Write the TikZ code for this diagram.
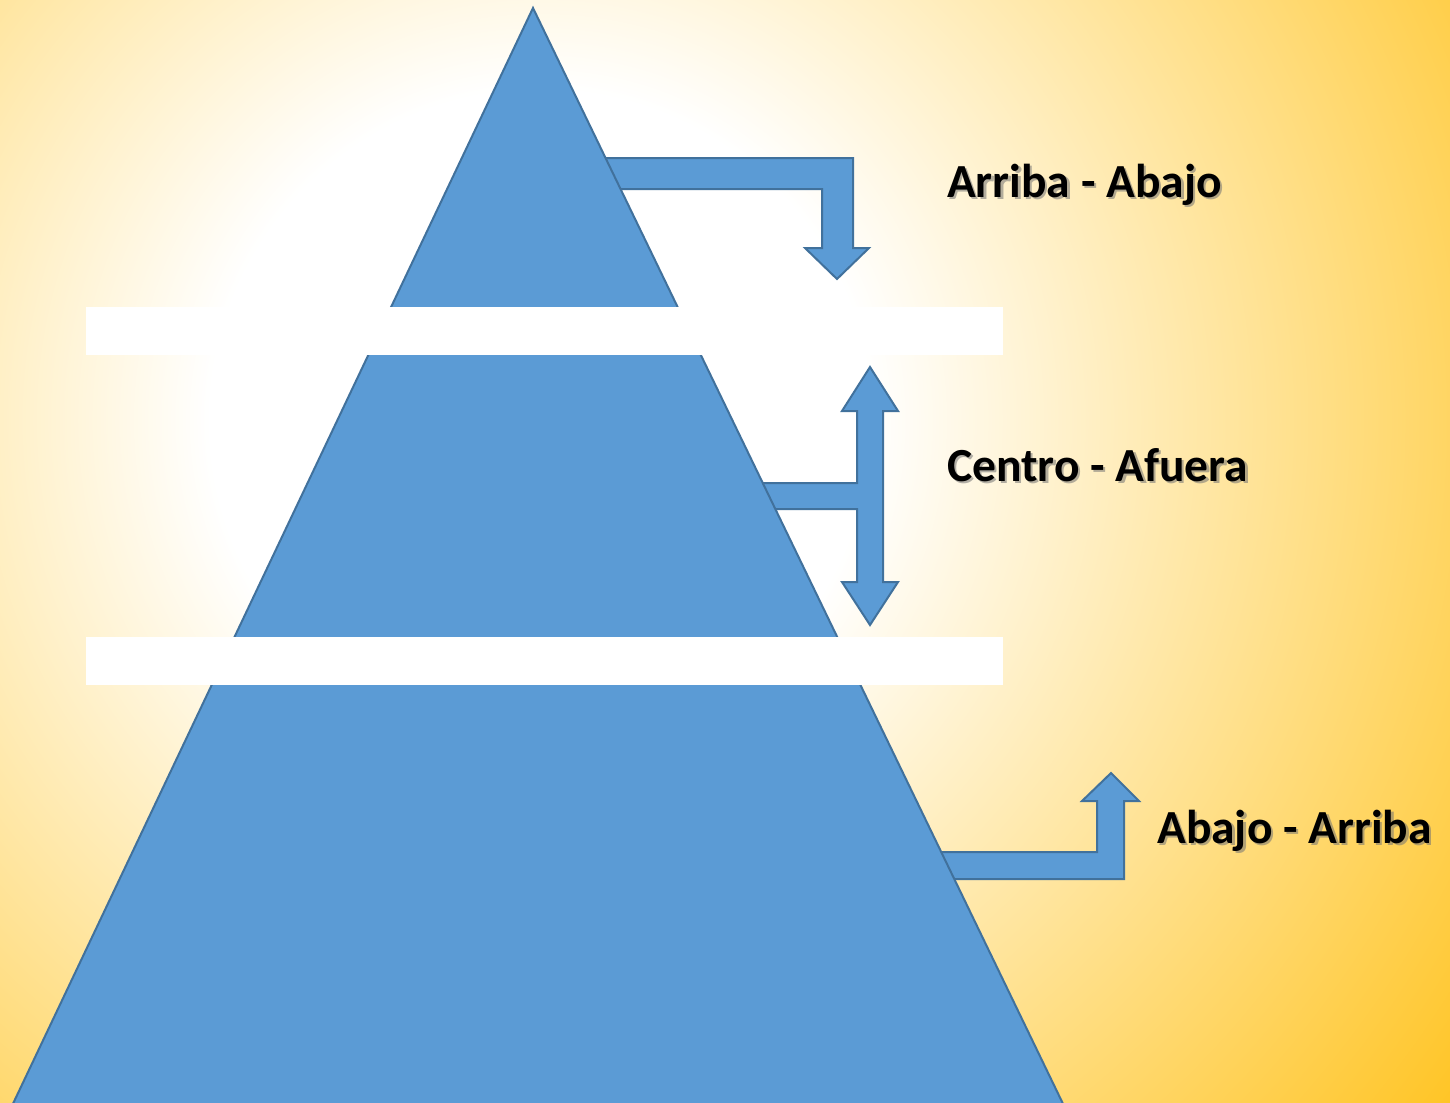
\documentclass[tikz,border=0pt]{standalone}
\usepackage{fontspec}
\setmainfont{Carlito}
\definecolor{pyr}{HTML}{5B9BD5}
\definecolor{pyrline}{HTML}{41719C}
\definecolor{gold}{HTML}{FFC423}
\pgfdeclareradialshading{bgshade}{\pgfpoint{0bp}{0bp}}{color(0bp)=(white); color(330bp)=(white); color(1150bp)=(gold)}
\tikzset{
  shape3d/.style={fill=pyr, draw=pyrline, line width=2bp, line join=miter},
  band/.style={fill=white, draw=none},
  lbl/.style={font=\bfseries\fontsize{47.5bp}{50bp}\selectfont, inner sep=0pt, anchor=base west, text=black},
  lblshadow/.style={lbl, text=black!55, opacity=0.55}
}
\begin{document}
\begin{tikzpicture}[x=1bp,y=-1bp]
\useasboundingbox (0,0) rectangle (1450,1102);
\begin{scope}
  \clip (0,0) rectangle (1450,1102);
  \pgftext[at={\pgfpoint{540bp}{-420bp}}]{\pgfuseshading{bgshade}}
\end{scope}
% arrows (behind the pyramid)
\draw[shape3d] (600,158) -- (853,158) -- (853,248) -- (869,248) -- (837,279) -- (805,248) -- (822,248) -- (822,189) -- (600,189) -- cycle;
\draw[shape3d] (740,483) -- (857,483) -- (857,411) -- (842,411) -- (870,367) -- (898,411) -- (883,411) -- (883,582) -- (898,582) -- (870,625) -- (842,582) -- (857,582) -- (857,509) -- (740,509) -- cycle;
\draw[shape3d] (900,852) -- (1097,852) -- (1097,801) -- (1082,801) -- (1111,773) -- (1139,801) -- (1124,801) -- (1124,879) -- (900,879) -- cycle;
% pyramid
\draw[shape3d] (533,8) -- (1066,1110) -- (10,1110) -- cycle;
% white bands
\fill[band] (86,307) rectangle (1003,355);
\fill[band] (86,637) rectangle (1003,685);
% labels
\node[lblshadow] (t1s) at (949.5,199.5) {Arriba - Abajo};
\node[lbl] (t1) at (947,197) {Arriba - Abajo};
\node[lblshadow] (t2s) at (949.5,483.5) {Centro - Afuera};
\node[lbl] (t2) at (947,481) {Centro - Afuera};
\node[lblshadow] (t3s) at (1159.5,845.5) {Abajo - Arriba};
\node[lbl] (t3) at (1157,843) {Abajo - Arriba};
\end{tikzpicture}
\end{document}
